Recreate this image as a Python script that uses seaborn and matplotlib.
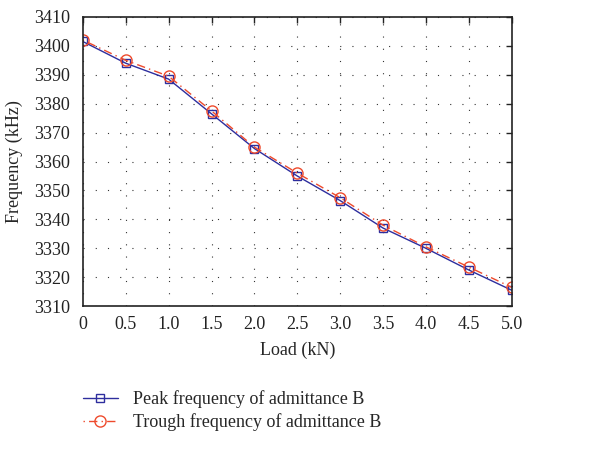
import matplotlib
matplotlib.use("Agg")
import matplotlib.pyplot as plt
import seaborn as sns
import pandas as pd

load_kn = [0, 0.5, 1.0, 1.5, 2.0, 2.5, 3.0, 3.5, 4.0, 4.5, 5.0]
peak_khz = [3401.5, 3394.0, 3388.5, 3376.5, 3364.5, 3355.0, 3346.5, 3337.0, 3330.0, 3322.5, 3315.5]
trough_khz = [3402.0, 3395.0, 3389.5, 3377.5, 3365.0, 3356.0, 3347.5, 3338.0, 3330.5, 3323.5, 3316.5]
x_ticks = [0, 0.5, 1.0, 1.5, 2.0, 2.5, 3.0, 3.5, 4.0, 4.5, 5.0]
x_tick_labels = ["0", "0.5", "1.0", "1.5", "2.0", "2.5", "3.0", "3.5", "4.0", "4.5", "5.0"]
y_ticks = [3310, 3320, 3330, 3340, 3350, 3360, 3370, 3380, 3390, 3400, 3410]
peak_label = "Peak frequency of admittance B"
trough_label = "Trough frequency of admittance B"

sns.set_style("white")
plt.rcParams["font.family"] = ["Liberation Serif", "DejaVu Serif"]
plt.rcParams["font.size"] = 13

df = pd.DataFrame({"load": load_kn, "peak": peak_khz, "trough": trough_khz})

fig = plt.figure(figsize=(6.0, 4.57), dpi=100)
ax = fig.add_axes([0.138, 0.330, 0.715, 0.633])

blue = "#2e2e9e"
red = "#ee4a2c"

sns.lineplot(data=df, x="load", y="peak", ax=ax, color=blue, linewidth=1.0,
             marker="s", markersize=6, markerfacecolor="none",
             markeredgecolor=blue, markeredgewidth=1.0, label=peak_label)
sns.lineplot(data=df, x="load", y="trough", ax=ax, color=red, linewidth=1.0,
             linestyle=(0, (1, 3, 6, 3)), marker="o", markersize=8,
             markerfacecolor="none", markeredgecolor=red,
             markeredgewidth=1.0, label=trough_label)

ax.set_xlim(0, 5.0)
ax.set_ylim(3310, 3410)
ax.set_xticks(x_ticks)
ax.set_xticklabels(x_tick_labels)
ax.set_yticks(y_ticks)
ax.set_xlabel("Load (kN)", fontsize=13, labelpad=6)
ax.set_ylabel("Frequency (kHz)", fontsize=13, labelpad=8)

ax.grid(True, linestyle=(0, (1, 10)), color="#333333", linewidth=0.8)
ax.tick_params(direction="in", top=True, right=True, length=4, width=1.0,
               labelsize=13, colors="#222222", pad=7)
ax.tick_params(axis="y", pad=9)
for side in ax.spines.values():
    side.set_color("#222222")
    side.set_linewidth(1.2)

handles, labels = ax.get_legend_handles_labels()
ax.get_legend().remove()
fig.legend(handles, labels, loc="upper left", bbox_to_anchor=(0.111, 0.182),
           frameon=False, fontsize=13, handlelength=1.95, labelspacing=0.3,
           handletextpad=0.85)

fig.savefig("out.png", dpi=100)
